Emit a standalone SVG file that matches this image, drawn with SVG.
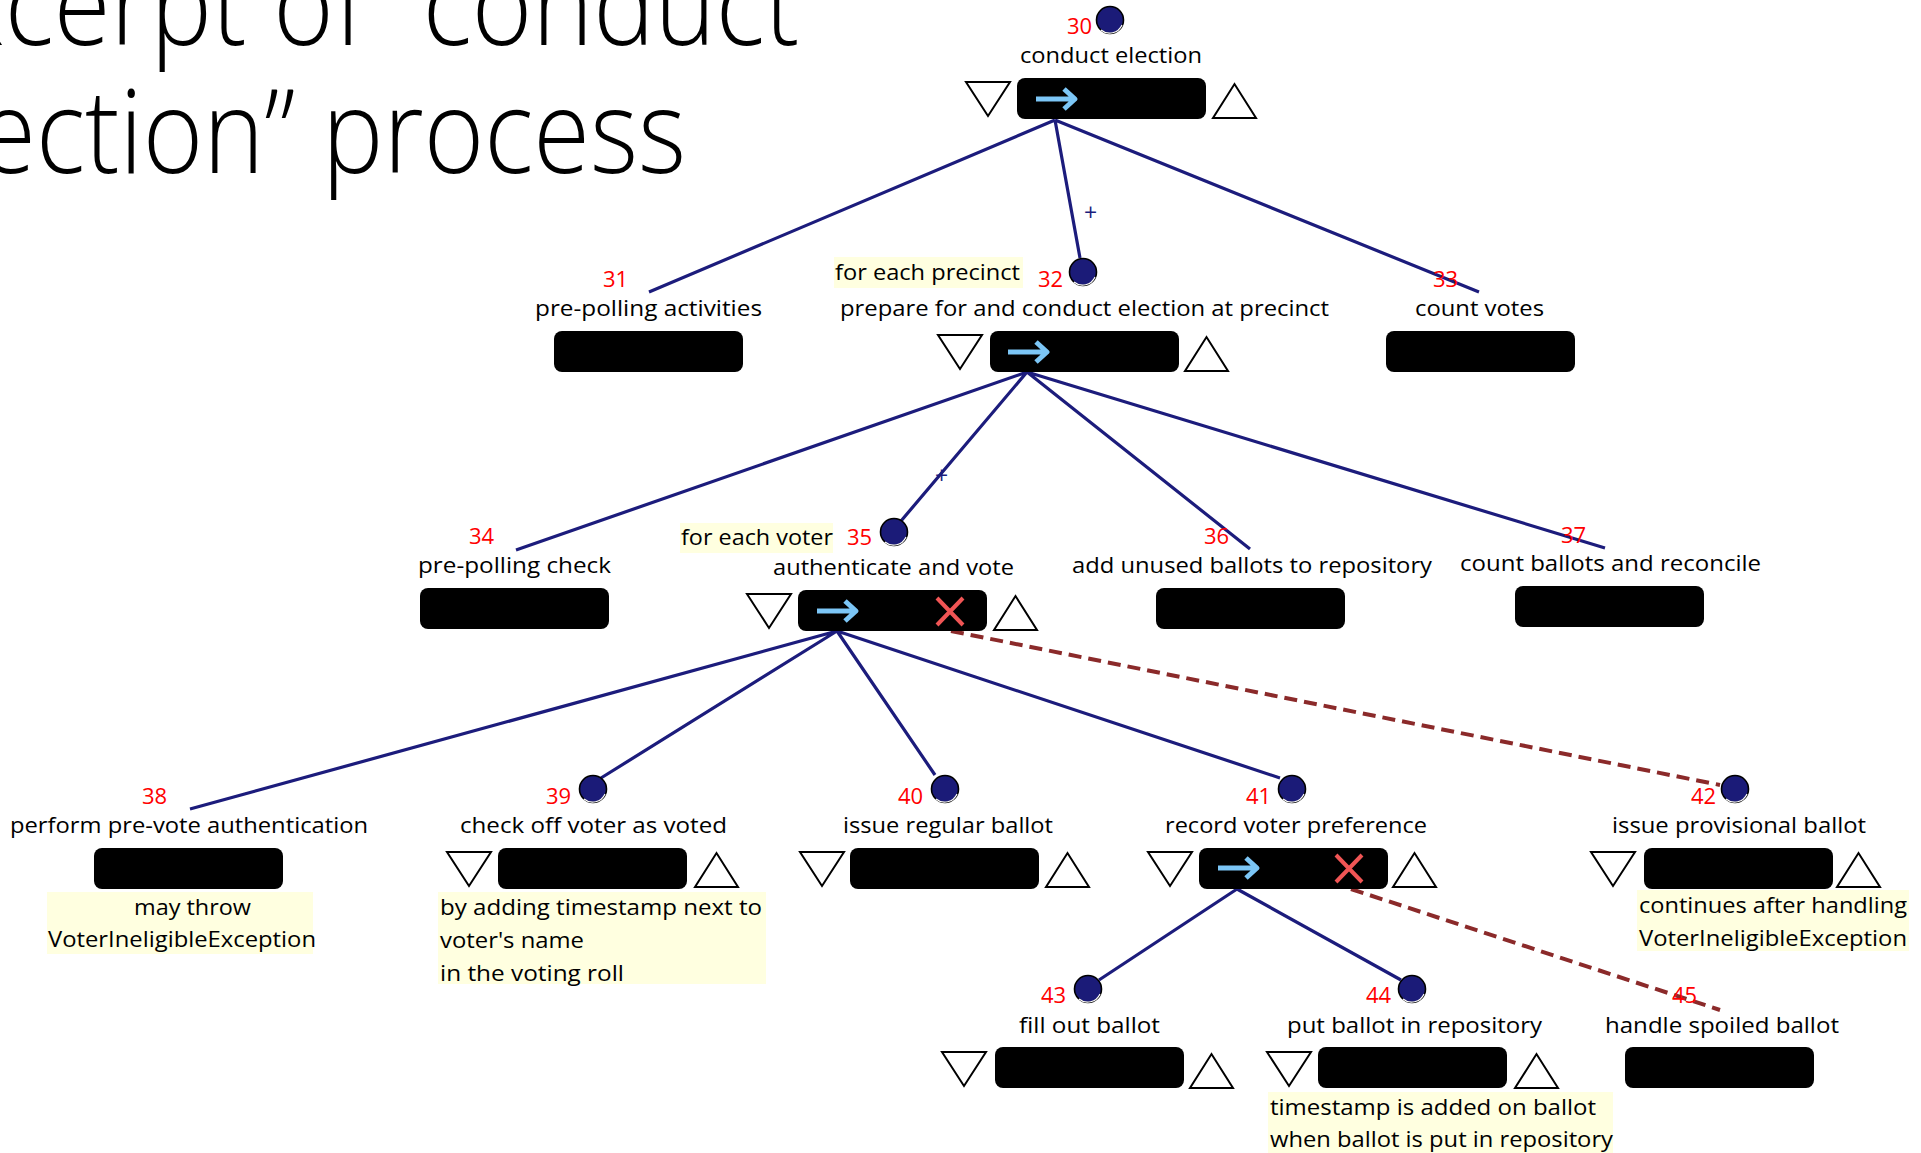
<svg xmlns="http://www.w3.org/2000/svg" xmlns:xlink="http://www.w3.org/1999/xlink" width="1921" height="1153" viewBox="0 0 1921 1153">
  <style>
    text { font-family: "Open Sans", "Noto Sans", "DejaVu Sans", sans-serif; }
    .title { font-size: 116px; font-weight: 300; fill: #000; }
    .label { font-size: 22.5px; fill: #000; }
    .num { font-size: 22px; fill: #ff0000; }
    .note { font-size: 22px; fill: #000; }
    .note-bg { fill: #ffffe0; }
    .box { fill: #000; }
    .tri { fill: #fff; stroke: #000; stroke-width: 2; stroke-linejoin: miter; }
    .dot { fill: #1b1b78; stroke: #000; stroke-width: 1.6; }
    .dot-hl { fill: none; stroke: #fff; stroke-width: 1.2; }
    .seq { fill: none; stroke: #7cc6f6; stroke-width: 5; stroke-linecap: butt; stroke-linejoin: round; }
    .exc { fill: none; stroke: #f05555; stroke-width: 4; }
    .edge { fill: none; stroke: #1c1c7c; stroke-width: 3.2; }
    .exedge { fill: none; stroke: #8b2a2a; stroke-width: 4; stroke-dasharray: 13 7; }
    .plus { font-size: 23px; fill: #1c1c7c; }
  </style>
  <defs>
    <rect id="step" class="box" width="189" height="41" rx="8"/>
    <path id="pre" class="tri" d="M0,0 H44 L22,34 Z"/>
    <path id="post" class="tri" d="M0,34 H43 L21.5,0 Z"/>
    <path id="arrow" class="seq" d="M0,0 H38 M28,-10 L39,0 L28,10"/>
    <path id="cross" class="exc" d="M0,0 L26,27 M26,0 L0,27"/>
    <g id="node-dot">
      <circle r="13.5" class="dot"/>
      <path d="M-9,10 A13.5,13.5 0 0 0 12,5" class="dot-hl"/>
    </g>
  </defs>

  <!-- title, running off the left and top edges -->
  <g id="title" transform="scale(0.89,1)">
    <text class="title" x="898" y="45" text-anchor="end">Excerpt of “conduct</text>
    <text class="title" x="771" y="173" text-anchor="end">election” process</text>
  </g>

  <!-- connectors -->
  <g id="connectors">
    <path class="edge" d="M1055,120 L649,292 M1055,120 L1080,258 M1055,120 L1479,292"/>
    <path class="edge" d="M1027,372 L516,550 M1027,372 L901,521 M1027,372 L1250,549 M1027,372 L1605,548"/>
    <path class="edge" d="M837,631 L190,809 M837,631 L601,778 M837,631 L935,775 M837,631 L1280,778"/>
    <path class="edge" d="M1237,889 L1099,980 M1237,889 L1401,980"/>
    <path class="exedge" d="M951,631 L1720,785"/>
    <path class="exedge" d="M1351,889 L1720,1010"/>
    <text class="plus" x="1084" y="221">+</text>
    <text class="plus" x="935" y="484">+</text>
  </g>

  <!-- 30 conduct election -->
  <g id="n30">
    <use xlink:href="#node-dot" x="1110" y="20"/>
    <text class="num" x="1067" y="34">30</text>
    <text class="label" x="1020" y="63" textLength="182" lengthAdjust="spacingAndGlyphs">conduct election</text>
    <use xlink:href="#pre" x="966" y="82"/>
    <use xlink:href="#step" x="1017" y="78" height="42"/>
    <use xlink:href="#post" x="1213" y="84"/>
    <use xlink:href="#arrow" x="1036" y="99"/>
  </g>

  <!-- 31 pre-polling activities -->
  <g id="n31">
    <text class="num" x="603" y="287">31</text>
    <text class="label" x="535" y="316" textLength="227" lengthAdjust="spacingAndGlyphs">pre-polling activities</text>
    <use xlink:href="#step" x="554" y="331"/>
  </g>

  <!-- 32 prepare for and conduct election at precinct -->
  <g id="n32">
    <rect class="note-bg" x="834" y="257" width="189" height="31"/>
    <text class="note" x="835" y="280" textLength="185" lengthAdjust="spacingAndGlyphs">for each precinct</text>
    <use xlink:href="#node-dot" x="1083" y="272"/>
    <text class="num" x="1038" y="287">32</text>
    <text class="label" x="840" y="316" textLength="489" lengthAdjust="spacingAndGlyphs">prepare for and conduct election at precinct</text>
    <use xlink:href="#pre" x="938" y="335"/>
    <use xlink:href="#step" x="990" y="331"/>
    <use xlink:href="#post" x="1185" y="337"/>
    <use xlink:href="#arrow" x="1008" y="352"/>
  </g>

  <!-- 33 count votes -->
  <g id="n33">
    <text class="num" x="1433" y="287">33</text>
    <text class="label" x="1415" y="316" textLength="129" lengthAdjust="spacingAndGlyphs">count votes</text>
    <use xlink:href="#step" x="1386" y="331"/>
  </g>

  <!-- 34 pre-polling check -->
  <g id="n34">
    <text class="num" x="469" y="544">34</text>
    <text class="label" x="418" y="573" textLength="193" lengthAdjust="spacingAndGlyphs">pre-polling check</text>
    <use xlink:href="#step" x="420" y="588"/>
  </g>

  <!-- 35 authenticate and vote -->
  <g id="n35">
    <rect class="note-bg" x="680" y="523" width="153" height="30"/>
    <text class="note" x="681" y="545" textLength="152" lengthAdjust="spacingAndGlyphs">for each voter</text>
    <use xlink:href="#node-dot" x="894" y="532"/>
    <text class="num" x="847" y="545">35</text>
    <text class="label" x="773" y="575" textLength="241" lengthAdjust="spacingAndGlyphs">authenticate and vote</text>
    <use xlink:href="#pre" x="747" y="594"/>
    <use xlink:href="#step" x="798" y="590"/>
    <use xlink:href="#post" x="994" y="596"/>
    <use xlink:href="#arrow" x="817" y="611"/>
    <use xlink:href="#cross" x="937" y="598"/>
  </g>

  <!-- 36 add unused ballots to repository -->
  <g id="n36">
    <text class="num" x="1204" y="544">36</text>
    <text class="label" x="1072" y="573" textLength="360" lengthAdjust="spacingAndGlyphs">add unused ballots to repository</text>
    <use xlink:href="#step" x="1156" y="588"/>
  </g>

  <!-- 37 count ballots and reconcile -->
  <g id="n37">
    <text class="num" x="1561" y="543">37</text>
    <text class="label" x="1460" y="571" textLength="301" lengthAdjust="spacingAndGlyphs">count ballots and reconcile</text>
    <use xlink:href="#step" x="1515" y="586"/>
  </g>

  <!-- 38 perform pre-vote authentication -->
  <g id="n38">
    <text class="num" x="142" y="804">38</text>
    <text class="label" x="10" y="833" textLength="358" lengthAdjust="spacingAndGlyphs">perform pre-vote authentication</text>
    <use xlink:href="#step" x="94" y="848"/>
    <rect class="note-bg" x="47" y="892" width="266" height="62"/>
    <text class="note" x="134" y="915" textLength="117" lengthAdjust="spacingAndGlyphs">may throw</text>
    <text class="note" x="48" y="947" textLength="268" lengthAdjust="spacingAndGlyphs">VoterIneligibleException</text>
  </g>

  <!-- 39 check off voter as voted -->
  <g id="n39">
    <use xlink:href="#node-dot" x="593" y="789"/>
    <text class="num" x="546" y="804">39</text>
    <text class="label" x="460" y="833" textLength="267" lengthAdjust="spacingAndGlyphs">check off voter as voted</text>
    <use xlink:href="#pre" x="447" y="852"/>
    <use xlink:href="#step" x="498" y="848"/>
    <use xlink:href="#post" x="695" y="853"/>
    <rect class="note-bg" x="438" y="892" width="328" height="92"/>
    <text class="note" x="440" y="915" textLength="322" lengthAdjust="spacingAndGlyphs">by adding timestamp next to</text>
    <text class="note" x="440" y="948" textLength="144" lengthAdjust="spacingAndGlyphs">voter's name</text>
    <text class="note" x="440" y="981" textLength="184" lengthAdjust="spacingAndGlyphs">in the voting roll</text>
  </g>

  <!-- 40 issue regular ballot -->
  <g id="n40">
    <use xlink:href="#node-dot" x="945" y="789"/>
    <text class="num" x="898" y="804">40</text>
    <text class="label" x="843" y="833" textLength="210" lengthAdjust="spacingAndGlyphs">issue regular ballot</text>
    <use xlink:href="#pre" x="800" y="852"/>
    <use xlink:href="#step" x="850" y="848"/>
    <use xlink:href="#post" x="1046" y="853"/>
  </g>

  <!-- 41 record voter preference -->
  <g id="n41">
    <use xlink:href="#node-dot" x="1292" y="789"/>
    <text class="num" x="1246" y="804">41</text>
    <text class="label" x="1165" y="833" textLength="262" lengthAdjust="spacingAndGlyphs">record voter preference</text>
    <use xlink:href="#pre" x="1148" y="852"/>
    <use xlink:href="#step" x="1199" y="848"/>
    <use xlink:href="#post" x="1393" y="853"/>
    <use xlink:href="#arrow" x="1218" y="868"/>
    <use xlink:href="#cross" x="1336" y="855"/>
  </g>

  <!-- 42 issue provisional ballot -->
  <g id="n42">
    <use xlink:href="#node-dot" x="1735" y="789"/>
    <text class="num" x="1691" y="804">42</text>
    <text class="label" x="1612" y="833" textLength="254" lengthAdjust="spacingAndGlyphs">issue provisional ballot</text>
    <use xlink:href="#pre" x="1591" y="852"/>
    <use xlink:href="#step" x="1644" y="848"/>
    <use xlink:href="#post" x="1837" y="853"/>
    <rect class="note-bg" x="1637" y="890" width="272" height="61"/>
    <text class="note" x="1639" y="913" textLength="268" lengthAdjust="spacingAndGlyphs">continues after handling</text>
    <text class="note" x="1639" y="946" textLength="268" lengthAdjust="spacingAndGlyphs">VoterIneligibleException</text>
  </g>

  <!-- 43 fill out ballot -->
  <g id="n43">
    <use xlink:href="#node-dot" x="1088" y="989"/>
    <text class="num" x="1041" y="1003">43</text>
    <text class="label" x="1019" y="1033" textLength="141" lengthAdjust="spacingAndGlyphs">fill out ballot</text>
    <use xlink:href="#pre" x="942" y="1052"/>
    <use xlink:href="#step" x="995" y="1047"/>
    <use xlink:href="#post" x="1190" y="1054"/>
  </g>

  <!-- 44 put ballot in repository -->
  <g id="n44">
    <use xlink:href="#node-dot" x="1412" y="989"/>
    <text class="num" x="1366" y="1003">44</text>
    <text class="label" x="1287" y="1033" textLength="255" lengthAdjust="spacingAndGlyphs">put ballot in repository</text>
    <use xlink:href="#pre" x="1267" y="1052"/>
    <use xlink:href="#step" x="1318" y="1047"/>
    <use xlink:href="#post" x="1515" y="1054"/>
    <rect class="note-bg" x="1268" y="1092" width="345" height="61"/>
    <text class="note" x="1270" y="1115" textLength="326" lengthAdjust="spacingAndGlyphs">timestamp is added on ballot</text>
    <text class="note" x="1270" y="1147" textLength="343" lengthAdjust="spacingAndGlyphs">when ballot is put in repository</text>
  </g>

  <!-- 45 handle spoiled ballot -->
  <g id="n45">
    <text class="num" x="1672" y="1003">45</text>
    <text class="label" x="1605" y="1033" textLength="234" lengthAdjust="spacingAndGlyphs">handle spoiled ballot</text>
    <use xlink:href="#step" x="1625" y="1047"/>
  </g>
</svg>
